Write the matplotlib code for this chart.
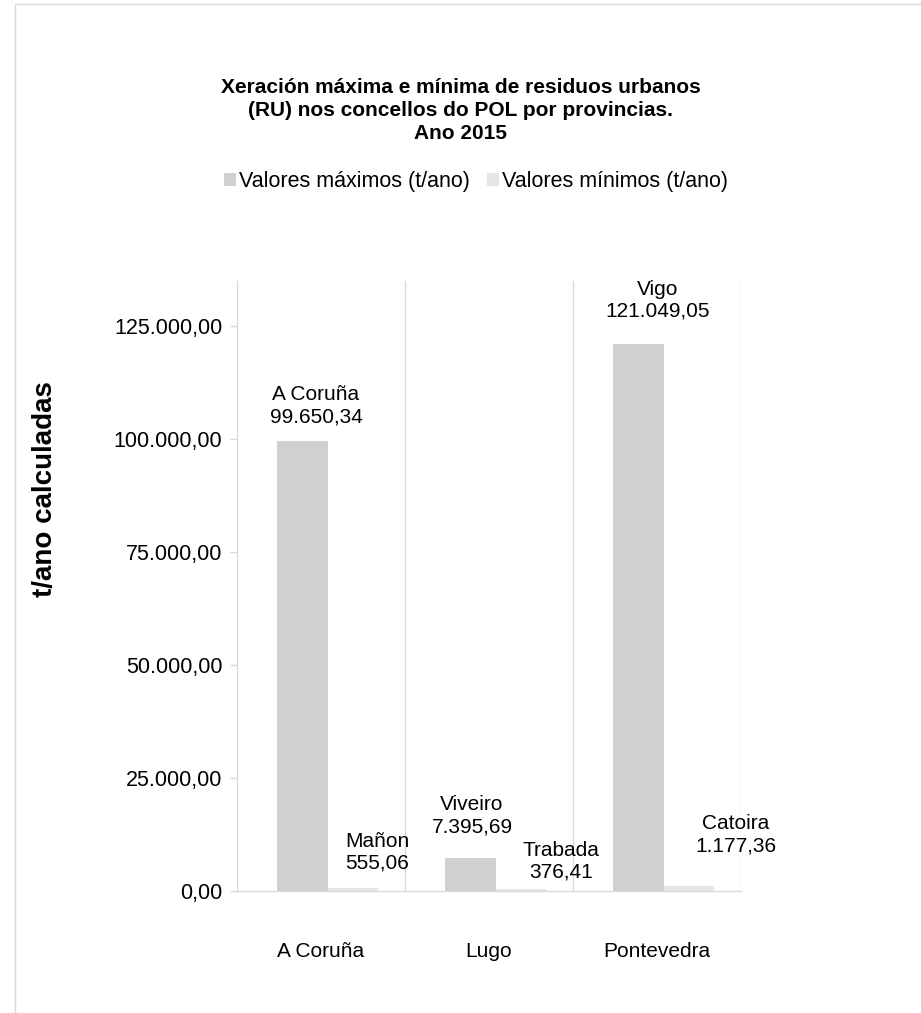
import matplotlib
matplotlib.use("Agg")
import matplotlib.pyplot as plt
from matplotlib.patches import Rectangle, Patch
from matplotlib.ticker import FuncFormatter
import numpy as np

plt.rcParams['font.family'] = ['Liberation Sans', 'DejaVu Sans']

# ---- data ----
provincias = ["A Coruña", "Lugo", "Pontevedra"]
max_vals = [99650.34, 7395.69, 121049.05]
min_vals = [555.06, 376.41, 1177.36]
max_names = ["A Coruña", "Viveiro", "Vigo"]
min_names = ["Mañon", "Trabada", "Catoira"]
series_names = ["Valores máximos (t/ano)", "Valores mínimos (t/ano)"]
y_ticks = [0, 25000, 50000, 75000, 100000, 125000]

def fmt_es(v, dec=2):
    s = f"{v:,.{dec}f}"
    return s.replace(",", "X").replace(".", ",").replace("X", ".")

W, H = 921, 1013
fig = plt.figure(figsize=(W / 100, H / 100), dpi=100)

ax = fig.add_axes([237 / W, 1 - 891 / H, (741 - 237) / W, (891 - 281) / H])

x = np.arange(len(provincias))
bw = 0.30
shift = 0.04
c_max = "#d0d0d0"
c_min = "#e6e6e6"
grid_c = "#d9d9d9"

b1 = ax.bar(x + shift - bw / 2, max_vals, bw, color=c_max, zorder=2)
b2 = ax.bar(x + shift + bw / 2, min_vals, bw, color=c_min, zorder=2)

ax.set_xlim(-0.5, len(provincias) - 0.5)
ax.set_ylim(0, 135000)
ax.set_yticks(y_ticks)
ax.yaxis.set_major_formatter(FuncFormatter(lambda v, p: fmt_es(v)))

# vertical gridlines at category boundaries
for b in np.arange(-0.5, len(provincias), 1.0):
    ax.axvline(b, color=grid_c, lw=1, zorder=1)

for s in ["top", "right", "left"]:
    ax.spines[s].set_visible(False)
ax.spines["bottom"].set_color(grid_c)
ax.spines["bottom"].set_linewidth(1)

ax.set_xticks(x)
ax.set_xticklabels(provincias, fontsize=15)
ax.tick_params(axis="x", length=0, pad=37, colors="#000000")
ax.tick_params(axis="y", length=5, width=1, color=grid_c, pad=5.5, labelsize=15.5)

# data labels (offsets in points, px*0.72)
max_offsets = [(13.5, 35), (1.5, 42), (19.5, 44)]
min_offsets = [(24, 36), (40, 28), (47, 51)]
for i in range(len(provincias)):
    ax.annotate(f"{max_names[i]}\n{fmt_es(max_vals[i])}",
                xy=(x[i] + shift - bw / 2, max_vals[i]),
                xytext=(max_offsets[i][0] * 0.72, max_offsets[i][1] * 0.72),
                textcoords="offset points", ha="center", va="center",
                fontsize=15, linespacing=1.2, zorder=3)
    ax.annotate(f"{min_names[i]}\n{fmt_es(min_vals[i])}",
                xy=(x[i] + shift + bw / 2, min_vals[i]),
                xytext=(min_offsets[i][0] * 0.72, min_offsets[i][1] * 0.72),
                textcoords="offset points", ha="center", va="center",
                fontsize=15, linespacing=1.2, zorder=3)

# title
fig.text(0.5, 1 - 110.5 / H,
         "Xeración máxima e mínima de residuos urbanos\n(RU) nos concellos do POL por provincias.\nAno 2015",
         ha="center", va="center", fontsize=15, fontweight="bold", linespacing=1.25)

# y label
fig.text(45 / W, 1 - 489 / H, "t/ano calculadas", rotation=90,
         ha="center", va="center", fontsize=20, fontweight="bold")

# legend
handles = [Patch(facecolor=c_max, edgecolor="none"), Patch(facecolor=c_min, edgecolor="none")]
fig.legend(handles, series_names, loc="center", bbox_to_anchor=(476 / W, 1 - 182 / H),
           ncol=2, frameon=False, fontsize=15.5, handlelength=0.55, handleheight=0.55,
           handletextpad=0.15, columnspacing=0.8)

# outer border
fig.patches.append(Rectangle((15 / W, -0.05), 1.2, 1 - 4 / H + 0.05,
                             transform=fig.transFigure, fill=False,
                             edgecolor=grid_c, lw=1))

fig.savefig("out.png", dpi=100)
